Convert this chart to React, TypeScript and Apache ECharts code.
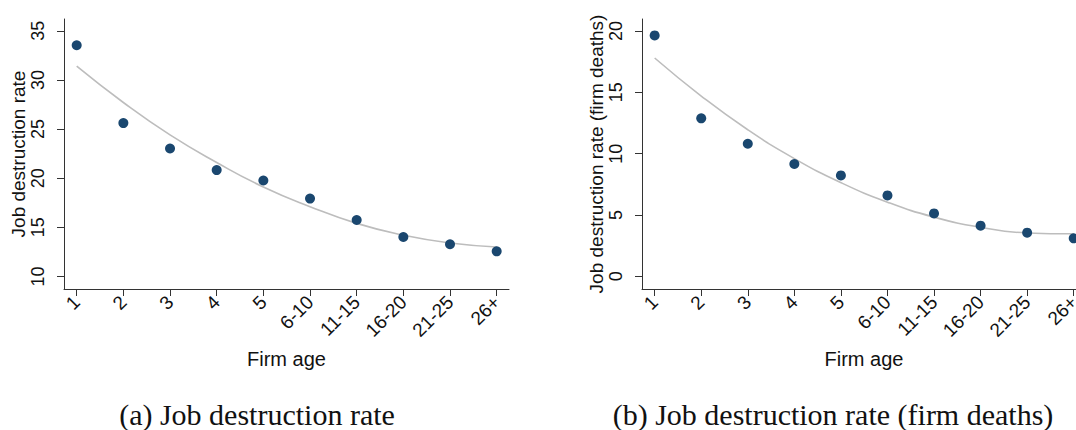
import React, { useEffect, useRef } from "react";
import * as echarts from "echarts";

const ageLabels = ["1", "2", "3", "4", "5", "6-10", "11-15", "16-20", "21-25", "26+"];

const jdrPoints = [33.53, 25.61, 23.02, 20.82, 19.76, 17.92, 15.74, 14.01, 13.27, 12.55];
const jdrFit = [31.4, 27.7, 24.4, 21.6, 19.1, 17.1, 15.4, 14.2, 13.4, 13.0];
const jdrTicks = [10, 15, 20, 25, 30, 35];

const deathPoints = [19.64, 12.88, 10.81, 9.16, 8.23, 6.6, 5.13, 4.13, 3.56, 3.1];
const deathFit = [17.8, 14.7, 11.95, 9.6, 7.64, 6.05, 4.83, 4.0, 3.54, 3.47];
const deathTicks = [0, 5, 10, 15, 20];

const xTicks = [1, 2, 3, 4, 5, 6, 7, 8, 9, 10];

const captions = ["(a) Job destruction rate", "(b) Job destruction rate (firm deaths)"];
const yNames = ["Job destruction rate", "Job destruction rate (firm deaths)"];
const xName = "Firm age";

const DOT = "#1a476f";
const FIT = "#bdbdbd";
const AXIS = "#333333";
const TXT = "#111111";
const SANS = "Liberation Sans, Arial, sans-serif";

function pairs(vals: number[]) {
  return vals.map((v, i) => [i + 1, v]);
}

export default function App() {
  const ref = useRef<HTMLDivElement>(null);
  useEffect(() => {
    if (!ref.current) return;
    const chart = echarts.init(ref.current, undefined, { renderer: "svg" });

    const xAxisBase = (gridIndex: number) => ({
      type: "value",
      gridIndex,
      min: 0.728,
      max: 10.264,
      name: xName,
      nameLocation: "middle",
      nameGap: 60,
      nameTextStyle: { fontFamily: SANS, fontSize: 20, color: TXT },
      axisLine: { show: true, onZero: false, lineStyle: { color: AXIS, width: 1 } },
      axisTick: { show: true, length: 7, customValues: xTicks, lineStyle: { color: AXIS } },
      splitLine: { show: false },
      axisLabel: {
        customValues: xTicks,
        rotate: 45,
        margin: 10,
        fontFamily: SANS,
        fontSize: 19,
        color: TXT,
        formatter: (v: number) => ageLabels[Math.round(v) - 1] ?? "",
      },
    });

    const yAxisBase = (gridIndex: number, min: number, max: number, ticks: number[], name: string, gap: number) => ({
      type: "value",
      gridIndex,
      min,
      max,
      name,
      nameLocation: "middle",
      nameGap: gap,
      nameTextStyle: { fontFamily: SANS, fontSize: 19, color: TXT },
      axisLine: { show: true, onZero: false, lineStyle: { color: AXIS, width: 1 } },
      axisTick: { show: true, length: 7, customValues: ticks, lineStyle: { color: AXIS } },
      splitLine: { show: false },
      axisLabel: {
        customValues: ticks,
        rotate: 90,
        margin: 17,
        fontFamily: SANS,
        fontSize: 18,
        color: TXT,
      },
    });

    chart.setOption({
      animation: false,
      backgroundColor: "#ffffff",
      grid: [
        { left: 64, top: 19, width: 445, height: 270 },
        { left: 642, top: 19, width: 444, height: 270 },
      ],
      xAxis: [xAxisBase(0), xAxisBase(1)],
      yAxis: [
        yAxisBase(0, 8.72, 36.2, jdrTicks, yNames[0], 33),
        yAxisBase(1, -1.03, 20.98, deathTicks, yNames[1], 36),
      ],
      series: [
        {
          type: "line",
          xAxisIndex: 0,
          yAxisIndex: 0,
          data: pairs(jdrFit),
          smooth: true,
          showSymbol: false,
          lineStyle: { color: FIT, width: 1.6 },
          z: 1,
        },
        {
          type: "scatter",
          xAxisIndex: 0,
          yAxisIndex: 0,
          data: pairs(jdrPoints),
          symbolSize: 10,
          itemStyle: { color: DOT, opacity: 1 },
          z: 2,
        },
        {
          type: "line",
          xAxisIndex: 1,
          yAxisIndex: 1,
          data: pairs(deathFit),
          smooth: true,
          showSymbol: false,
          lineStyle: { color: FIT, width: 1.6 },
          z: 1,
        },
        {
          type: "scatter",
          xAxisIndex: 1,
          yAxisIndex: 1,
          data: pairs(deathPoints),
          symbolSize: 10,
          itemStyle: { color: DOT, opacity: 1 },
          z: 2,
        },
      ],
      graphic: [
        {
          type: "text",
          x: 257,
          y: 414,
          style: {
            text: captions[0],
            font: "30px 'Liberation Serif', 'Times New Roman', serif",
            fill: "#111111",
            textAlign: "center",
            textVerticalAlign: "middle",
          },
        },
        {
          type: "text",
          x: 833,
          y: 414,
          style: {
            text: captions[1],
            font: "30px 'Liberation Serif', 'Times New Roman', serif",
            fill: "#111111",
            textAlign: "center",
            textVerticalAlign: "middle",
          },
        },
      ],
    });
    return () => chart.dispose();
  }, []);

  return (
    <div
      style={{ position: "fixed", left: 0, top: 0, width: 1076, height: 430, overflow: "hidden", background: "#fff" }}
    >
      <div ref={ref} style={{ width: 1100, height: 430 }} />
    </div>
  );
}
